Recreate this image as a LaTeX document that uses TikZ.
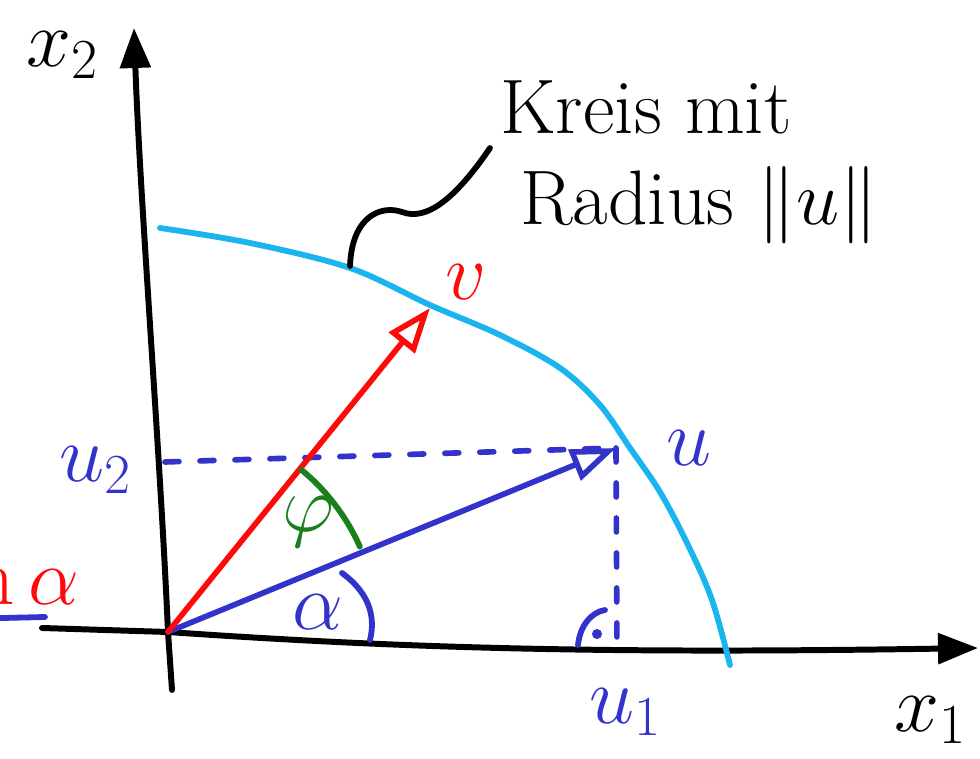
\RequirePackage{fix-cm}
\documentclass[tikz,border=0pt]{standalone}
\usepackage{xcolor}
\usepackage{tikz}
\usepackage{amsmath}
\usetikzlibrary{arrows.meta,positioning,calc}
\definecolor{circlecyan}{HTML}{1AB4EE}
\definecolor{vecblue}{HTML}{3333CC}
\definecolor{vecred}{HTML}{FF0A0A}
\definecolor{anglegreen}{HTML}{1B7F1B}
\tikzstyle{axis} = [-{Triangle[length=0.8cm,width=0.6cm]}, line width=3.4pt, black, line cap=round, line join=round]
\tikzstyle{vector} = [-{Triangle[open,length=0.9cm,width=0.65cm]}, line width=3.2pt, line cap=round, line join=round]

\begin{document}
\begin{tikzpicture}[x=0.02cm, y=-0.02cm,
  lbl/.style={font=\fontsize{46}{48}\selectfont, inner sep=0pt},
  stroke/.style={line width=3.3pt, line cap=round, line join=round},
  dashline/.style={vecblue, line width=3.2pt, line cap=round, dash pattern=on 0.28cm off 0.42cm}]
\useasboundingbox (0,0) rectangle (980,759);

\coordinate (origin) at (168,632);
\coordinate (xstart) at (42,628);
\coordinate (xend) at (978,648);
\coordinate (ystart) at (172,690);
\coordinate (yend) at (134,28);
\coordinate (utip) at (616,448);
\coordinate (vtip) at (430,308);
\coordinate (uleft) at (165,462);
\coordinate (ufoot) at (617,656);
\coordinate (ptr) at (350,266);
\coordinate (ptrend) at (490,148);

\draw[axis] (xstart) -- (origin) .. controls (400,648) and (600,654) .. (xend);
\draw[axis] (ystart) -- (origin) .. controls (160,450) and (140,200) .. (yend);

\draw[circlecyan, stroke] plot[smooth, tension=0.55] coordinates {(160,228) (250,243) (350,268) (430,305) (500,335) (560,368) (600,405) (630,448) (660,492) (688,545) (712,600) (730,665)};
\draw[stroke] (ptr) .. controls (352,215) and (382,205) .. (402,212) .. controls (428,222) and (458,195) .. (ptrend);

\draw[dashline] (uleft) -- (utip);
\draw[dashline] (utip) -- (ufoot);
\draw[vector, vecblue] (origin) -- (utip);
\draw[vector, vecred] (origin) -- (vtip);

\draw[anglegreen, stroke] (origin) ++(-50.5:210) arc[start angle=-50.5, end angle=-24, radius=210];
\draw[vecblue, stroke] (342,573) .. controls (372,595) and (375,620) .. (370,640);
\draw[vecblue, stroke] (578,645) .. controls (580,625) and (592,612) .. (605,610);
\fill[vecblue] (597,634) circle[radius=5];

\node[lbl] (xtwo) at (62,55) {$x_2$};
\node[lbl] (xone) at (930,720) {$x_1$};
\node[lbl, vecblue] (utwo) at (95,470) {$u_2$};
\node[lbl, vecblue] (uone) at (625,712) {$u_1$};
\node[lbl, vecblue, right=1cm of utip] (ulabel) {$u$};
\node[lbl, vecred] (vlabel) at (466,282) {$v$};
\node[lbl, anglegreen] (philabel) at (308,522) {$\varphi$};
\node[lbl, vecblue] (alphalabel) at (318,612) {$\alpha$};
\node[lbl, vecred, anchor=east] (sinlabel) at (80,578) {$\sin\alpha$};
\draw[vecblue, stroke] (-40,619) -- (45,617);

\node[font=\fontsize{44}{52}\selectfont, align=left, anchor=north west, inner sep=0pt] (kreis) at (500,80) {Kreis mit\\\hspace{0.4cm}Radius $\|u\|$};
\end{tikzpicture}
\end{document}
